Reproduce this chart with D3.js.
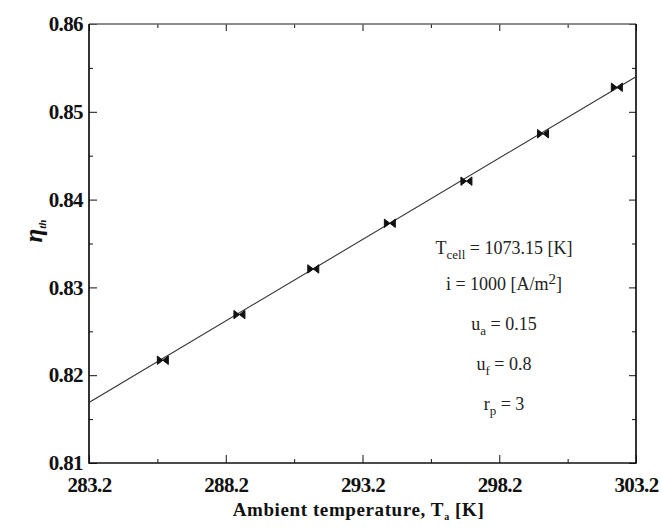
<!DOCTYPE html>
<meta charset="utf-8">
<html>
<head>
<script src="https://cdn.jsdelivr.net/npm/d3@7"></script>
<style>
    body{ margin:0; background:#fff; }
    svg{ display:block; }
    .axis text{
        font-family: "Liberation Serif", "Times New Roman", serif;
        font-weight: bold;
        font-size: 21px;
        fill: #111;
        letter-spacing: -0.6px;
    }
    .axis path, .axis line{ stroke:#111; }
    .note{
        font-family: "Liberation Serif", "Times New Roman", serif;
        font-size: 18px;
        fill: #222;
    }
    .title{
        font-family: "Liberation Serif", "Times New Roman", serif;
        font-weight: bold;
        fill: #111;
    }
</style>
</head>
<body>
<svg width="662" height="530"></svg>
<script>
    // data
    const tempK  = [285.9, 288.7, 291.4, 294.2, 297.0, 299.8, 302.5];
    const effTh  = [0.8217, 0.8269, 0.8321, 0.8373, 0.8421, 0.8475, 0.8528];
    // fitted straight line, end points
    const fitX = [283.2, 303.2];
    const fitY = [0.8169, 0.8540];

    const xMajor = [283.2, 288.2, 293.2, 298.2, 303.2];
    const xMinor = [285.7, 290.7, 295.7, 300.7];
    const yMajor = [0.81, 0.82, 0.83, 0.84, 0.85, 0.86];
    const yMinor = [0.815, 0.825, 0.835, 0.845, 0.855];

    // annotation lines: [text, shift]
    const notes = [
        [["T",""],["cell","sub"],[" = 1073.15 [K]",""]],
        [["i = 1000 [A/m",""],["2","sup"],["]",""]],
        [["u",""],["a","sub"],[" = 0.15",""]],
        [["u",""],["f","sub"],[" = 0.8",""]],
        [["r",""],["p","sub"],[" = 3",""]]
    ];

    const svg = d3.select("svg");
    const mL = 89, mR = 636, mT = 24, mB = 463;

    const x = d3.scaleLinear().domain([283.2, 303.2]).range([mL, mR]);
    const y = d3.scaleLinear().domain([0.81, 0.86]).range([mB, mT]);

    // ***************************************
    //        axes (ticks inward)
    // ***************************************
    function addAxis(axis, tx, ty, cls){
        const g = svg.append("g").attr("class", "axis " + cls)
            .attr("transform", `translate(${tx},${ty})`).call(axis);
        g.select(".domain").remove();
        return g;
    }
    // bottom, labels
    addAxis(d3.axisBottom(x).tickValues(xMajor).tickSize(-8).tickPadding(14).tickFormat(d3.format(".1f")), 0, mB, "xb");
    addAxis(d3.axisBottom(x).tickValues(xMinor).tickSize(-4).tickFormat(""), 0, mB, "xbm");
    // top
    addAxis(d3.axisTop(x).tickValues(xMajor).tickSize(-7).tickFormat(""), 0, mT, "xt");
    addAxis(d3.axisTop(x).tickValues(xMinor).tickSize(-4).tickFormat(""), 0, mT, "xtm");
    // left, labels
    addAxis(d3.axisLeft(y).tickValues(yMajor).tickSize(-8).tickPadding(6).tickFormat(d3.format(".2f")), mL, 0, "yl");
    addAxis(d3.axisLeft(y).tickValues(yMinor).tickSize(-4).tickFormat(""), mL, 0, "ylm");
    // right
    addAxis(d3.axisRight(y).tickValues(yMajor).tickSize(-7).tickFormat(""), mR, 0, "yr");
    addAxis(d3.axisRight(y).tickValues(yMinor).tickSize(-4).tickFormat(""), mR, 0, "yrm");

    // frame
    svg.append("line").attr("x1", mL).attr("x2", mR).attr("y1", mT).attr("y2", mT)
        .attr("stroke", "#666").attr("stroke-width", 1.3);
    svg.append("path")
        .attr("d", `M${mL},${mT}V${mB}H${mR}V${mT}`)
        .attr("fill", "none").attr("stroke", "#111").attr("stroke-width", 1.7);

    // ***************************************
    //        fit line and markers
    // ***************************************
    const line = d3.line().x(d => x(d[0])).y(d => y(d[1]));
    svg.append("path")
        .datum(d3.zip(fitX, fitY))
        .attr("d", line)
        .attr("fill", "none")
        .attr("stroke", "#333")
        .attr("stroke-width", 1.1);

    const bowtie = "M-5.5,-4.2L5.5,4.2L5.5,-4.2L-5.5,4.2Z";
    svg.append("g")
        .selectAll("path")
        .data(d3.zip(tempK, effTh))
        .join("path")
        .attr("transform", d => `translate(${x(d[0])},${y(d[1])})`)
        .attr("d", bowtie)
        .attr("fill", "#111")
        .attr("stroke", "#111")
        .attr("stroke-width", 1);

    // ***************************************
    //        annotation
    // ***************************************
    const noteY = [254, 290, 330, 370, 410];
    const shiftDy = {"": 0, "sub": 5, "sup": -6};
    notes.forEach(function (parts, i){
        const t = svg.append("text").attr("class", "note")
            .attr("x", 504).attr("y", noteY[i]).attr("text-anchor", "middle");
        let cur = 0;
        parts.forEach(function (p){
            const s = t.append("tspan").text(p[0]);
            const want = shiftDy[p[1]];
            s.attr("dy", want - cur);
            cur = want;
            if (p[1] === "sub") s.attr("font-size", 13);
            if (p[1] === "sup") s.attr("font-size", 15);
        });
    });

    // ***************************************
    //        axis titles
    // ***************************************
    const xt = svg.append("text").attr("class", "title")
        .attr("x", (mL + mR) / 2 - 4).attr("y", 516)
        .attr("text-anchor", "middle").style("font-size", "19px")
        .attr("letter-spacing", 0.6);
    xt.append("tspan").text("Ambient temperature, T");
    xt.append("tspan").text("a").style("font-size", "10px").attr("dy", 4);
    xt.append("tspan").text(" [K]").attr("dy", -4);

    const yt = svg.append("text").attr("class", "title")
        .attr("transform", "translate(42,231) rotate(-90)")
        .attr("text-anchor", "middle");
    yt.append("tspan").text("η").style("font-size", "25px").style("font-style", "italic");
    yt.append("tspan").text("th").style("font-size", "11px").style("font-style", "italic").attr("dy", 4);
</script>
</body>
</html>
